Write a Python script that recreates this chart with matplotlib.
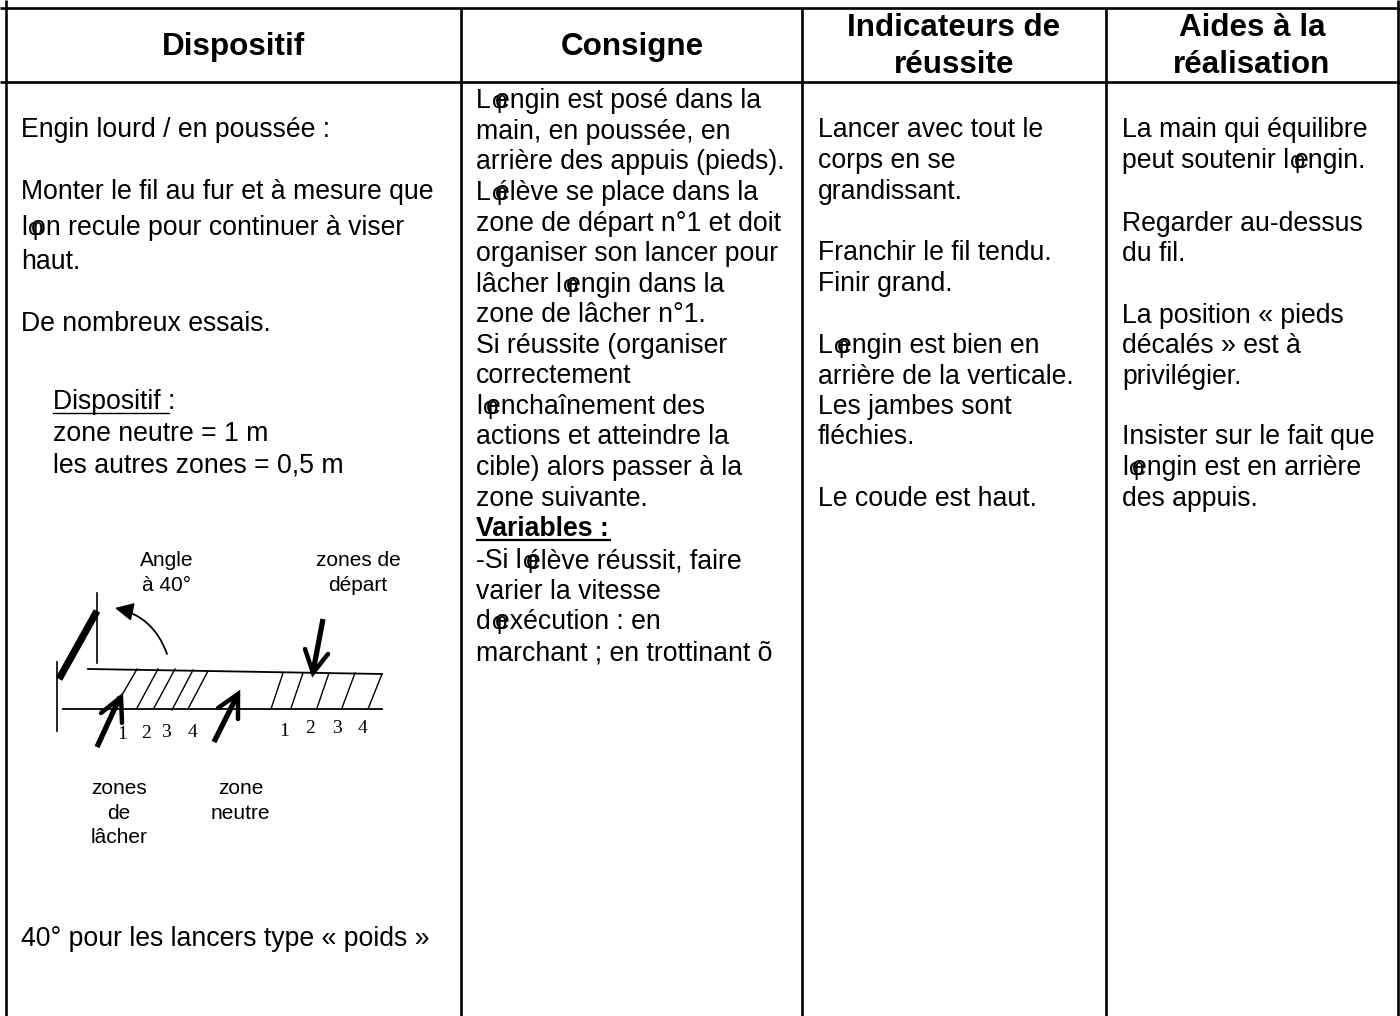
import matplotlib
matplotlib.use('Agg')
import matplotlib.pyplot as plt
from matplotlib.patches import FancyArrowPatch

# column separators and table rows (pixels)
col_x = [6, 461, 802, 1106, 1398]
row_y = [8, 82]

headers = [["Dispositif"], ["Consigne"], ["Indicateurs de", "réussite"], ["Aides à la", "réalisation"]]
header_base = [[55], [55], [36, 73], [36, 73]]
header_cx = [233, 632, 954, 1252]

# φ marks the broken apostrophe glyph of the source document
col1_text = ["Engin lourd / en poussée :", "Monter le fil au fur et à mesure que",
             "lφon recule pour continuer à viser", "haut.", "De nombreux essais.",
             "40° pour les lancers type « poids »"]
col1_base = [137, 199, 235, 269, 331, 946]
col1b_text = ["Dispositif :", "zone neutre = 1 m", "les autres zones = 0,5 m"]
col1b_base = [409, 441, 472]

col2_text = ["Lφengin est posé dans la", "main, en poussée, en", "arrière des appuis (pieds).",
             "Lφélève se place dans la", "zone de départ n°1 et doit", "organiser son lancer pour",
             "lâcher lφengin dans la", "zone de lâcher n°1.", "Si réussite (organiser",
             "correctement", "lφenchaînement des", "actions et atteindre la",
             "cible) alors passer à la", "zone suivante.", "Variables :",
             "-Si lφélève réussit, faire", "varier la vitesse", "dφexécution : en",
             "marchant ; en trottinant õ"]
col2_base = [108, 139, 169, 200, 231, 261, 292, 322, 353, 383, 414, 444, 475, 506, 536, 568, 599, 629, 660]

col3_text = ["Lancer avec tout le", "corps en se", "grandissant.", "Franchir le fil tendu.", "Finir grand.",
             "Lφengin est bien en", "arrière de la verticale.", "Les jambes sont", "fléchies.", "Le coude est haut."]
col3_base = [137, 168, 199, 260, 291, 353, 384, 414, 444, 506]

col4_text = ["La main qui équilibre", "peut soutenir lφengin.", "Regarder au-dessus", "du fil.",
             "La position « pieds", "décalés » est à", "privilégier.", "Insister sur le fait que",
             "lφengin est en arrière", "des appuis."]
col4_base = [137, 168, 231, 261, 323, 353, 384, 444, 475, 506]

plt.rcParams['font.family'] = ['Liberation Sans', 'DejaVu Sans']
BODY = 19.2

fig = plt.figure(figsize=(14, 10.16), dpi=100)
ax = fig.add_axes([0, 0, 1, 1])
ax.set_xlim(0, 1400)
ax.set_ylim(1016, 0)
ax.axis('off')
rend = fig.canvas.get_renderer()


def put_line(x, y, s, **kw):
    # the glyph barely advances, it sits on top of the letter after it
    parts = s.split('φ')
    for i, part in enumerate(parts):
        t = ax.text(x, y, part, va='baseline', ha='left', color='black', **kw)
        if i < len(parts) - 1:
            x += t.get_window_extent(rend).width + 1
            ax.text(x + 8, y, 'φ', va='baseline', ha='center', color='black', fontsize=17)
            x += 3.5


# table grid
for y in row_y:
    ax.plot([0, 1400], [y, y], color='black', lw=1.9, solid_capstyle='butt')
for i, x in enumerate(col_x):
    top = 0 if i in (0, 4) else row_y[0]
    ax.plot([x, x], [top, 1016], color='black', lw=1.9, solid_capstyle='butt')

for lines, bases, cx in zip(headers, header_base, header_cx):
    for s, b in zip(lines, bases):
        ax.text(cx, b, s, fontsize=22.6, fontweight='bold', ha='center', va='baseline')

for s, b in zip(col1_text, col1_base):
    put_line(21, b, s, fontsize=BODY)
for s, b in zip(col1b_text, col1b_base):
    put_line(53, b, s, fontsize=BODY)
ax.plot([53, 169], [413, 413], color='black', lw=1.0)

for s, b in zip(col2_text, col2_base):
    if s == "Variables :":
        put_line(476, b, s, fontsize=BODY, fontweight='bold')
        ax.plot([476, 611], [540, 540], color='black', lw=1.6, solid_capstyle='butt')
    else:
        put_line(476, b, s, fontsize=BODY)
for s, b in zip(col3_text, col3_base):
    put_line(818, b, s, fontsize=BODY)
for s, b in zip(col4_text, col4_base):
    put_line(1122, b, s, fontsize=BODY)

# sketch of the throwing lane
ax.plot([96.7, 96.7], [593, 663], color='black', lw=1.2)
ax.plot([57, 57], [662, 731], color='black', lw=1.2)
ax.plot([59, 97], [679, 611], color='black', lw=5.2, solid_capstyle='butt')
ax.plot([88, 208, 382], [669, 671, 674], color='black', lw=1.3)
ax.plot([63, 382], [709, 709], color='black', lw=1.3)
hatch_left = [(137, 669, 122, 695), (158, 669, 137, 708), (175, 669, 154, 708), (193, 670, 172, 710), (208, 671, 188, 709)]
hatch_right = [(283, 673, 271, 709), (303, 673, 291, 708), (329, 673, 317, 708), (355, 673, 342, 708), (382, 674, 368, 709)]
for x0, y0, x1, y1 in hatch_left + hatch_right:
    ax.plot([x0, x1], [y0, y1], color='black', lw=1.0)

ax.add_patch(FancyArrowPatch((167, 654), (115, 608), connectionstyle='arc3,rad=0.28',
                             arrowstyle='-|>,head_length=4.6,head_width=2.3', lw=1.3, color='black',
                             shrinkA=0, shrinkB=0, mutation_scale=2.4))

thick_arrows = [
    [(323, 619), (313, 672)],
    [(97, 747), (120, 697)],
    [(214, 742), (238, 694)],
]
thick_barbs = [
    [(305, 649), (313, 673), (328, 654)],
    [(101, 713), (121, 697), (122, 723)],
    [(218, 708), (238, 694), (238, 719)],
]
for shaft, barb in zip(thick_arrows, thick_barbs):
    ax.plot(*zip(*shaft), color='black', lw=3.8, solid_capstyle='butt')
    ax.plot(*zip(*barb), color='black', lw=3.2, solid_capstyle='round', solid_joinstyle='miter')

nums = ['1', '2', '3', '4', '1', '2', '3', '4']
num_x = [122.5, 146.5, 166, 192, 284, 310, 337, 362]
num_y = [739, 738, 737, 737, 736, 733, 733, 733]
for s, x, y in zip(nums, num_x, num_y):
    ax.text(x, y, s, family='Liberation Serif', fontsize=14, ha='center', va='baseline')

labels = ["Angle", "à 40°", "zones de", "départ", "zones", "de", "lâcher", "zone", "neutre"]
label_x = [167, 167, 358, 358, 119, 119, 119, 240.5, 240.5]
label_y = [566, 591, 566, 591, 794, 819, 843, 794, 819]
for s, x, y in zip(labels, label_x, label_y):
    ax.text(x, y, s, fontsize=15, ha='center', va='baseline')

fig.savefig('out.png', dpi=100)
